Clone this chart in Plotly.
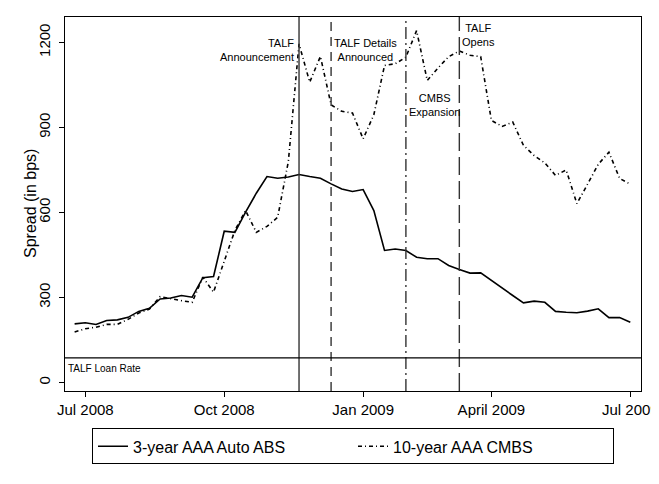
import plotly.graph_objects as go

# Weekly index: 0 = first week of July 2008
weeks = list(range(-1, 52))

auto_abs = [207, 211, 205, 219, 221, 230, 251, 262, 295, 298, 307, 301, 370, 374,
            534, 530, 601, 668, 727, 721, 725, 734, 727, 721, 701, 683, 674, 681,
            607, 466, 471, 466, 442, 437, 437, 413, 399, 386, 387, 360, 331, 307,
            281, 287, 283, 251, 248, 246, 252, 260, 229, 229, 213]

cmbs = [178, 190, 195, 205, 205, 223, 245, 259, 303, 295, 289, 283, 372, 319,
        425, 537, 607, 530, 551, 583, 780, 1195, 1060, 1151, 980, 957, 951, 860,
        945, 1119, 1125, 1148, 1242, 1066, 1110, 1150, 1170, 1155, 1150, 925, 904,
        919, 837, 801, 775, 731, 750, 631, 700, 770, 813, 720, 700]

tick_weeks = [0, 13, 26, 38, 51]
tick_labels = ["Jul 2008", "Oct 2008", "Jan 2009", "April 2009", "Jul 2009"]

talf_loan_rate = 87

event_weeks = [20, 23, 30, 35]
event_labels = ["TALF<br>Announcement", "TALF Details<br>Announced", "CMBS<br>Expansion", "TALF<br>Opens"]
event_dash = ["solid", "9px,6px", "12px,4px,2px,4px", "18px,6px"]
label_y = [1175, 1175, 978, 1225]
label_side = ["left", "right", "right", "right"]

fig = go.Figure()
fig.add_trace(go.Scatter(x=weeks, y=auto_abs, mode="lines", name="3-year AAA Auto ABS",
                         line=dict(color="black", width=1.6)))
fig.add_trace(go.Scatter(x=weeks, y=cmbs, mode="lines", name="10-year AAA CMBS",
                         line=dict(color="black", width=1.6, dash="4px,3px,1px,3px")))

for wk, lab, dsh, ly, side in zip(event_weeks, event_labels, event_dash, label_y, label_side):
    fig.add_vline(x=wk, line=dict(color="#333333", width=1.4, dash=dsh))
    fig.add_annotation(x=wk, y=ly, text=lab, showarrow=False,
                       xanchor="right" if side == "left" else "left",
                       xshift=-3 if side == "left" else 1,
                       align="right" if side == "left" else "center",
                       font=dict(family="Liberation Sans, Arial", size=11, color="black"))

fig.add_hline(y=talf_loan_rate, line=dict(color="black", width=1.4))
fig.add_annotation(x=0, xref="paper", y=talf_loan_rate, text="TALF Loan Rate", showarrow=False,
                   xanchor="left", yanchor="top", xshift=1, yshift=-3,
                   font=dict(family="Liberation Sans, Arial", size=10, color="black"))

# y-axis title as a rotated annotation
fig.add_annotation(x=0, xref="paper", y=0.5, yref="paper", text="Spread (in bps)",
                   textangle=-90, showarrow=False, xanchor="center", yanchor="middle",
                   xshift=-35, font=dict(family="Liberation Sans, Arial", size=16, color="black"))

# page body has an 8px default margin; margins compensate so the plot area lands in place
fig.update_layout(
    width=659, height=476,
    margin=dict(l=57, r=26, t=9, b=93),
    paper_bgcolor="white", plot_bgcolor="white",
    font=dict(family="Liberation Sans, Arial", color="black", size=15),
    showlegend=True,
    legend=dict(orientation="h", x=0.5, xanchor="center", y=-0.1, yanchor="top",
                bordercolor="black", borderwidth=1, entrywidth=215,
                font=dict(size=16)),
)
fig.update_xaxes(range=[-1.9, 52.0], tickvals=tick_weeks, ticktext=tick_labels,
                 showgrid=False, zeroline=False, showline=True, linecolor="black",
                 linewidth=1, mirror=True, ticks="outside", ticklen=5, tickcolor="black",
                 tickfont=dict(size=15), automargin=False)
fig.update_yaxes(range=[-30, 1290], tickvals=[0, 300, 600, 900, 1200], tickangle=-90,
                 showgrid=False, zeroline=False, showline=True, linecolor="black",
                 linewidth=1, mirror=True, ticks="outside", ticklen=5, tickcolor="black",
                 tickfont=dict(size=15), ticklabelstandoff=3, automargin=False)

fig.write_html("out.html")
